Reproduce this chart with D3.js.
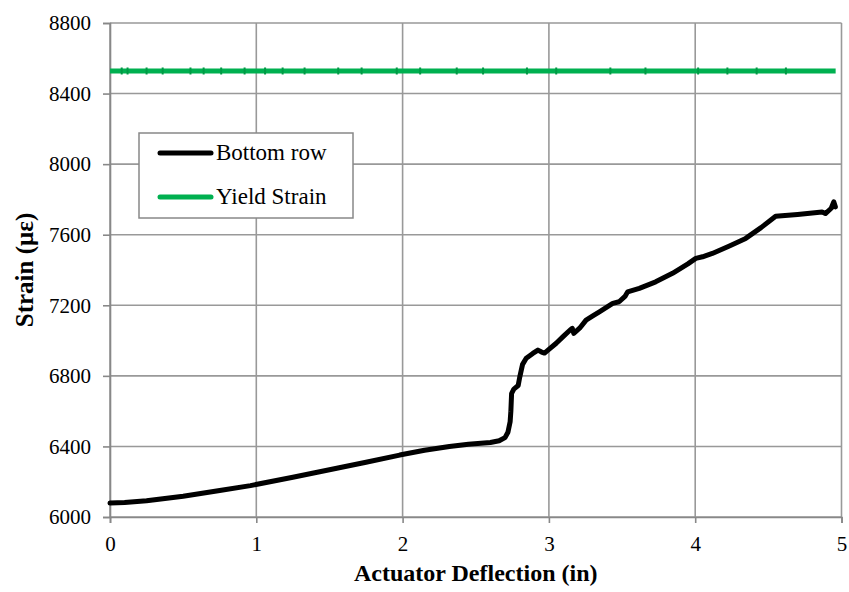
<!DOCTYPE html>
<html>
<head>
<meta charset="utf-8">
<script src="https://cdn.jsdelivr.net/npm/d3@7"></script>
<style>
  body { margin: 0; background: #fff; }
  svg text { font-family: "Liberation Serif", "Times New Roman", serif !important; }
</style>
</head>
<body>
<div id="chart"></div>
<script>
// strain gauge data
var deflection = [0, 0.1, 0.25, 0.5, 0.75, 0.96, 1.25, 1.55, 1.75, 1.98, 2.15, 2.32, 2.45, 2.6, 2.66, 2.7, 2.72, 2.735, 2.74, 2.745, 2.76, 2.79, 2.80, 2.82, 2.845, 2.89, 2.925, 2.95, 2.97, 3.0, 3.05, 3.095, 3.145, 3.16, 3.17, 3.21, 3.254, 3.3, 3.345, 3.436, 3.48, 3.52, 3.538, 3.618, 3.73, 3.845, 3.95, 4.004, 4.05, 4.117, 4.23, 4.345, 4.45, 4.55, 4.7, 4.867, 4.89, 4.93, 4.947, 4.958];
var bottomRow = [6079, 6082, 6092, 6118, 6150, 6178, 6225, 6276, 6310, 6351, 6378, 6400, 6412, 6422, 6432, 6450, 6480, 6540, 6600, 6700, 6725, 6745, 6790, 6865, 6900, 6927, 6946, 6935, 6929, 6950, 6985, 7021, 7060, 7069, 7041, 7070, 7116, 7140, 7163, 7211, 7220, 7250, 7276, 7296, 7333, 7381, 7435, 7466, 7475, 7494, 7535, 7579, 7640, 7705, 7715, 7729, 7720, 7750, 7786, 7758];
var yieldStrain = 8528;
var yieldRange = [0, 4.96];
var yieldMarks = [0.08, 0.12, 0.25, 0.36, 0.55, 0.64, 0.76, 0.92, 1.06, 1.18, 1.33, 1.56, 1.72, 1.96, 2.12, 2.37, 2.55, 2.85, 3.05, 3.42, 3.66, 4.02, 4.22, 4.42, 4.62];
var xTicks = [0, 1, 2, 3, 4, 5];
var yTicks = [6000, 6400, 6800, 7200, 7600, 8000, 8400, 8800];

var width = 849, height = 592;
var margin = {top: 23, right: 7, bottom: 75, left: 110};

var svg = d3.select("#chart").append("svg")
    .attr("width", width)
    .attr("height", height);

var xScale = d3.scaleLinear().domain([0, 5]).range([margin.left, width - margin.right - 0.5]);
var yScale = d3.scaleLinear().domain([6000, 8800]).range([height - margin.bottom, margin.top]);

// grid
svg.append("g").selectAll("line").data(xTicks).enter().append("line")
    .attr("x1", d => xScale(d)).attr("x2", d => xScale(d))
    .attr("y1", yScale(6000)).attr("y2", yScale(8800))
    .attr("stroke", "#999").attr("stroke-width", 1.6);
svg.append("g").selectAll("line").data(yTicks).enter().append("line")
    .attr("x1", xScale(0)).attr("x2", xScale(5))
    .attr("y1", d => yScale(d)).attr("y2", d => yScale(d))
    .attr("stroke", "#999").attr("stroke-width", 1.6);

// axes
var xAxis = svg.append("g")
    .attr("transform", "translate(0," + yScale(6000) + ")")
    .call(d3.axisBottom(xScale).tickValues(xTicks).tickSize(6).tickPadding(13).tickFormat(d3.format("d")));
var yAxis = svg.append("g")
    .attr("transform", "translate(" + xScale(0) + ",0)")
    .call(d3.axisLeft(yScale).tickValues(yTicks).tickSize(7).tickPadding(12).tickFormat(d3.format("d")));
[xAxis, yAxis].forEach(function(a) {
    a.attr("font-family", null);
    a.select(".domain").attr("stroke", "#888").attr("stroke-width", 1.6);
    a.selectAll(".tick line").attr("stroke", "#888").attr("stroke-width", 1.6);
    a.selectAll("text").attr("font-size", 21).attr("fill", "#000");
});

// yield strain line
svg.append("line")
    .attr("x1", xScale(yieldRange[0])).attr("x2", xScale(yieldRange[1]))
    .attr("y1", yScale(yieldStrain)).attr("y2", yScale(yieldStrain))
    .attr("stroke", "#00B050").attr("stroke-width", 5);
svg.append("g").selectAll("rect").data(yieldMarks).enter().append("rect")
    .attr("x", d => xScale(d) - 1).attr("y", yScale(yieldStrain) - 3.5)
    .attr("width", 2).attr("height", 7)
    .attr("fill", "#009a45");

// bottom row curve
var pts = deflection.map(function(d, i) { return {x: d, y: bottomRow[i]}; });
var line = d3.line().x(d => xScale(d.x)).y(d => yScale(d.y)).curve(d3.curveLinear);
svg.append("path")
    .datum(pts)
    .attr("d", line)
    .attr("fill", "none")
    .attr("stroke", "#000")
    .attr("stroke-width", 5)
    .attr("stroke-linejoin", "round")
    .attr("stroke-linecap", "round");

// legend
var legend = svg.append("g");
legend.append("rect")
    .attr("x", 139).attr("y", 133).attr("width", 214).attr("height", 85)
    .attr("fill", "#fff").attr("stroke", "#888").attr("stroke-width", 1.5);
var legendItems = [{name: "Bottom row", color: "#000"}, {name: "Yield Strain", color: "#00B050"}];
legendItems.forEach(function(item, i) {
    var y = 153 + i * 44;
    legend.append("line")
        .attr("x1", 160).attr("x2", 211).attr("y1", y).attr("y2", y)
        .attr("stroke", item.color).attr("stroke-width", 5).attr("stroke-linecap", "round");
    legend.append("text")
        .attr("x", 216).attr("y", y + 7)
        .attr("font-size", 23)
        .text(item.name);
});

// axis titles
svg.append("text")
    .attr("x", (xScale(0) + xScale(5)) / 2).attr("y", 581)
    .attr("text-anchor", "middle")
    .attr("font-size", 24).attr("font-weight", "bold")
    .text("Actuator Deflection (in)");
svg.append("text")
    .attr("transform", "translate(33," + ((yScale(6000) + yScale(8800)) / 2) + ") rotate(-90)")
    .attr("text-anchor", "middle")
    .attr("font-size", 25).attr("font-weight", "bold")
    .text("Strain (με)");
</script>
</body>
</html>
